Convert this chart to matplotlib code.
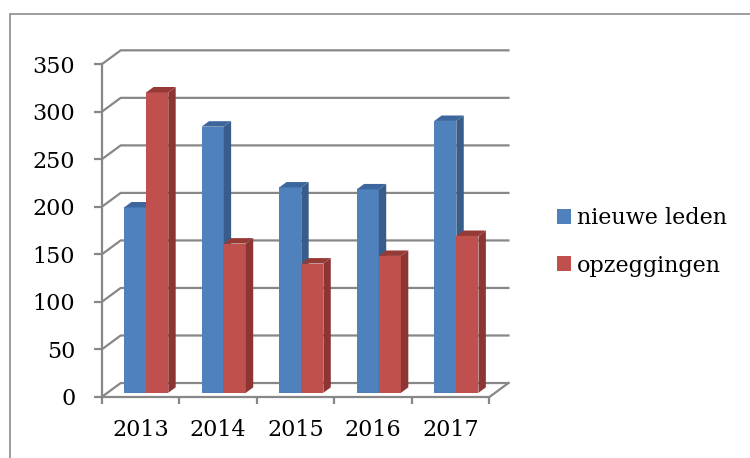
import matplotlib.pyplot as plt
from matplotlib.patches import Polygon, Patch, Rectangle
from matplotlib import rcParams

rcParams.update({
    "font.family": "DejaVu Serif",
    "font.size": 16,
})

jaren = ["2013", "2014", "2015", "2016", "2017"]
nieuwe_leden = [195, 280, 216, 214, 286]
opzeggingen = [316, 157, 136, 144, 165]
reeksen = ["nieuwe leden", "opzeggingen"]

# kleuren: voorkant, zijkant, bovenkant
kleuren = [
    ("#4f81bd", "#385d8a", "#3d679c"),
    ("#c0504d", "#8c3533", "#963a37"),
]
grijs = "#878787"

# schijn-3D: diepte van de vloer in data-eenheden
DX = 0.245   # categorieen
DY = 14.7    # waarde-eenheden
f0, f1 = 0.30, 0.69   # voor- en achterkant van de staven
w = 0.285

fig = plt.figure(figsize=(7.5, 4.58), dpi=100)
ax = fig.add_axes([0.1356, 0.1332, 0.5423, 0.7679])
ax.set_xlim(-0.5, 4.5 + DX)
ax.set_ylim(0, 370)
ax.patch.set_visible(False)

# achterwand: rasterlijnen + zijwand diagonalen
yticks = list(range(0, 351, 50))
for v in yticks:
    ax.plot([-0.5, -0.5 + DX, 4.5 + DX], [v, v + DY, v + DY],
            color=grijs, lw=1.6, clip_on=False, zorder=1)
# rechter rand van de vloer
ax.plot([4.5, 4.5 + DX], [0, DY], color=grijs, lw=1.6, clip_on=False, zorder=1)

# staven
for s, waarden in enumerate([nieuwe_leden, opzeggingen]):
    voor, zij, boven = kleuren[s]
    for i, v in enumerate(waarden):
        x0 = i - w + s * w + f0 * DX
        b = f0 * DY
        ddx, ddy = (f1 - f0) * DX, (f1 - f0) * DY
        ax.bar(x0, v, width=w, bottom=b, align="edge", color=voor,
               zorder=3 + s, clip_on=False)
        x1 = x0 + w
        ax.add_patch(Polygon([(x1, b), (x1 + ddx, b + ddy), (x1 + ddx, b + v + ddy), (x1, b + v)],
                             closed=True, facecolor=zij, edgecolor="none",
                             zorder=3 + s, clip_on=False))
        ax.add_patch(Polygon([(x0, b + v), (x0 + ddx, b + v + ddy), (x1 + ddx, b + v + ddy), (x1, b + v)],
                             closed=True, facecolor=boven, edgecolor="none",
                             zorder=3 + s, clip_on=False))

# assen
for k in ["top", "right"]:
    ax.spines[k].set_visible(False)
for k in ["left", "bottom"]:
    ax.spines[k].set_color(grijs)
    ax.spines[k].set_linewidth(1.6)
    ax.spines[k].set_zorder(6)
ax.spines["left"].set_bounds(0, 350)
ax.spines["bottom"].set_bounds(-0.5, 4.5)

ax.set_yticks(yticks)
ax.set_yticklabels([str(v) for v in yticks])
ax.tick_params(axis="y", length=6, width=1.6, color=grijs, pad=13, labelsize=16)

ax.set_xticks([i - 0.5 for i in range(len(jaren) + 1)])
ax.set_xticklabels([""] * (len(jaren) + 1))
ax.set_xticks(range(len(jaren)), minor=True)
ax.set_xticklabels(jaren, minor=True)
ax.tick_params(axis="x", which="major", length=5, width=1.6, color=grijs)
ax.tick_params(axis="x", which="minor", length=0, pad=16, labelsize=16)

# legenda
handles = [Patch(facecolor=kleuren[s][0]) for s in range(2)]
fig.legend(handles, reeksen, loc="upper left", bbox_to_anchor=(0.7425, 0.548),
           frameon=False, handlelength=0.65, handleheight=0.65,
           handletextpad=0.25, labelspacing=1.15, borderpad=0, borderaxespad=0,
           fontsize=16)

# kader rond de grafiek
fig.patches.append(Rectangle((10 / 750, -0.1), 1.2, (458 - 14) / 458 + 0.1,
                             transform=fig.transFigure, fill=False,
                             edgecolor="#8c8c8c", lw=1.2))

fig.savefig("out.png", dpi=100)
